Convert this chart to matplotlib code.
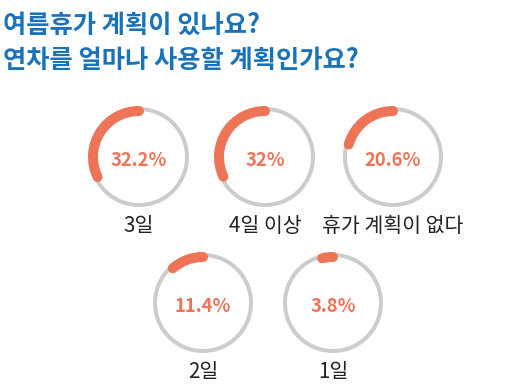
import matplotlib
matplotlib.use("Agg")
import matplotlib.pyplot as plt
from matplotlib.patches import Arc

plt.rcParams['font.family'] = ['Noto Sans CJK KR', 'DejaVu Sans']

title_lines = ["여름휴가 계획이 있나요?", "연차를 얼마나 사용할 계획인가요?"]
categories = ["3일", "4일 이상", "휴가 계획이 없다", "2일", "1일"]
values = [32.2, 32, 20.6, 11.4, 3.8]
value_labels = ["32.2%", "32%", "20.6%", "11.4%", "3.8%"]

W, H = 525, 391
centers = [(139, 157), (265, 157), (393, 157), (203, 303), (333, 303)]
R = 48
orange = "#ee7458"
gray = "#cccccc"
blue = "#1a72b8"

fig = plt.figure(figsize=(W / 100, H / 100), dpi=100)
ax = fig.add_axes([0, 0, 1, 1])
ax.set_xlim(0, W)
ax.set_ylim(0, H)
ax.set_aspect('equal')
ax.axis('off')

px = 72 / 100  # points per pixel

for (cx, cy), cat, v, lab in zip(centers, categories, values, value_labels):
    y = H - cy
    ring = Arc((cx, y), 2 * R, 2 * R, theta1=0, theta2=360, color=gray, lw=4 * px)
    ax.add_patch(ring)
    arc = Arc((cx, y), 2 * R - 4, 2 * R - 4, theta1=90, theta2=90 + v * 3.6,
              color=orange, lw=10 * px, capstyle='round')
    ax.add_patch(arc)
    ax.text(cx, y - 3, lab, ha='center', va='center', color=orange,
            fontsize=13.3, fontweight='bold')
    ax.text(cx, y - 69, cat, ha='center', va='center', color='#222222',
            fontsize=14.8, fontweight='light')

ax.text(3, H - 25, title_lines[0], ha='left', va='center', color=blue,
        fontsize=18.2, fontweight='bold')
ax.text(3, H - 61, title_lines[1], ha='left', va='center', color=blue,
        fontsize=18.2, fontweight='bold')

fig.savefig("out.png", dpi=100)
